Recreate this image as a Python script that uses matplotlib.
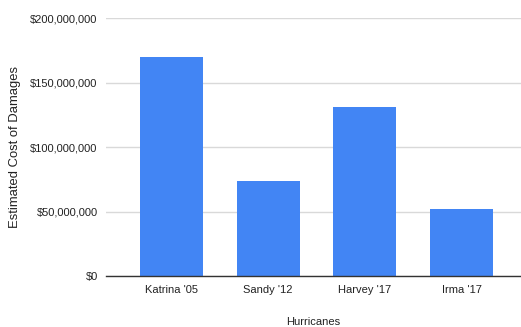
import matplotlib
matplotlib.use("Agg")
import matplotlib.pyplot as plt
from matplotlib.ticker import FuncFormatter

hurricanes = ["Katrina '05", "Sandy '12", "Harvey '17", "Irma '17"]
damages = [169_500_000, 73_500_000, 130_800_000, 51_800_000]

plt.rcParams["font.family"] = ["Liberation Sans", "DejaVu Sans"]

fig = plt.figure(figsize=(5.21, 3.27), dpi=100)
ax = fig.add_axes([106 / 521, 50.7 / 327, 415 / 521, 258.3 / 327])

x = range(len(hurricanes))
ax.bar(x, damages, width=0.65, color="#4285F4", zorder=3)

ax.set_ylim(0, 200_000_000)
ax.set_yticks([0, 50_000_000, 100_000_000, 150_000_000, 200_000_000])
ax.yaxis.set_major_formatter(FuncFormatter(lambda v, p: f"${v:,.0f}"))
ax.set_xlim(-0.677, 3.614)
ax.set_xticks(list(x))
ax.set_xticklabels(hurricanes)

ax.grid(axis="y", color="#d9d9d9", linewidth=1, zorder=0)
for side in ("top", "right", "left"):
    ax.spines[side].set_visible(False)
ax.spines["bottom"].set_color("#333333")
ax.spines["bottom"].set_linewidth(1)
ax.spines["bottom"].set_zorder(4)
ax.tick_params(axis="both", length=0, labelsize=8, colors="#222222")
ax.tick_params(axis="y", pad=6)
ax.tick_params(axis="x", pad=6)

ax.set_xlabel("Hurricanes", fontsize=8, color="#222222", labelpad=16)
ax.set_ylabel("Estimated Cost of Damages", fontsize=9.4, color="#222222", labelpad=7)

fig.savefig("out.png", dpi=100)
